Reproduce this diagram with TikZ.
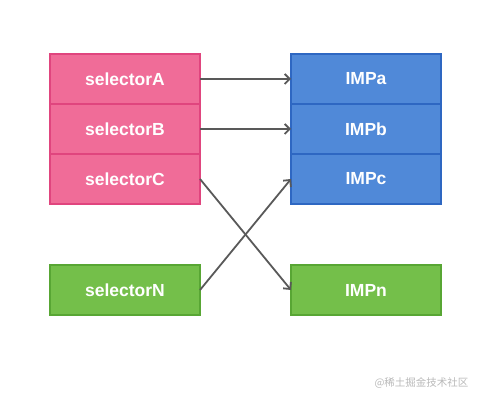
\documentclass[tikz,border=0pt]{standalone}
\usepackage{fontspec}
\setmainfont{Liberation Sans}
\newfontfamily\cjkfont{Noto Sans CJK SC}
\usetikzlibrary{arrows.meta,positioning}

\definecolor{selfill}{HTML}{F06C98}
\definecolor{seldraw}{HTML}{E0457E}
\definecolor{impfill}{HTML}{5089D8}
\definecolor{impdraw}{HTML}{2E67C2}
\definecolor{extfill}{HTML}{74BF4A}
\definecolor{extdraw}{HTML}{58A634}
\definecolor{linkgray}{HTML}{595959}

\begin{document}
\begin{tikzpicture}[
  cell/.style={rectangle,line width=1.5pt,outer sep=0pt,
               minimum width=150pt,minimum height=50pt,align=center,
               text=white,font=\fontsize{17.5}{19}\selectfont\bfseries},
  selcell/.style={cell,draw=seldraw,fill=selfill},
  impcell/.style={cell,draw=impdraw,fill=impfill},
  extcell/.style={cell,draw=extdraw,fill=extfill},
  link/.style={-{Straight Barb[length=5pt,width=10pt]},line width=1.8pt,linkgray},
  watermark/.style={font=\cjkfont\fontsize{10.5}{12}\selectfont,text=gray!55}
]
\useasboundingbox (0pt,0pt) rectangle (483pt,-403pt);

% ===== SELECTORS =====
\node[selcell] (selA) at (125pt,-79pt) {selectorA};
\node[selcell,below=0pt of selA] (selB) {selectorB};
\node[selcell,below=0pt of selB] (selC) {selectorC};
\node[extcell,below=61pt of selC] (selN) {selectorN};

% ===== IMPLEMENTATIONS =====
\node[impcell,right=91pt of selA] (impA) {IMPa};
\node[impcell,below=0pt of impA] (impB) {IMPb};
\node[impcell,below=0pt of impB] (impC) {IMPc};
\node[extcell,right=91pt of selN] (impN) {IMPn};

% straight links
\draw[link] (selA) -- (impA);
\draw[link] (selB) -- (impB);

% crossed links
\draw[link] (selC.east) -- (impN.west);
\draw[link] (selN.east) -- (impC.west);

% watermark
\node[watermark,anchor=east] (wm) at (472pt,-383pt) {@稀土掘金技术社区};

\end{tikzpicture}
\end{document}
